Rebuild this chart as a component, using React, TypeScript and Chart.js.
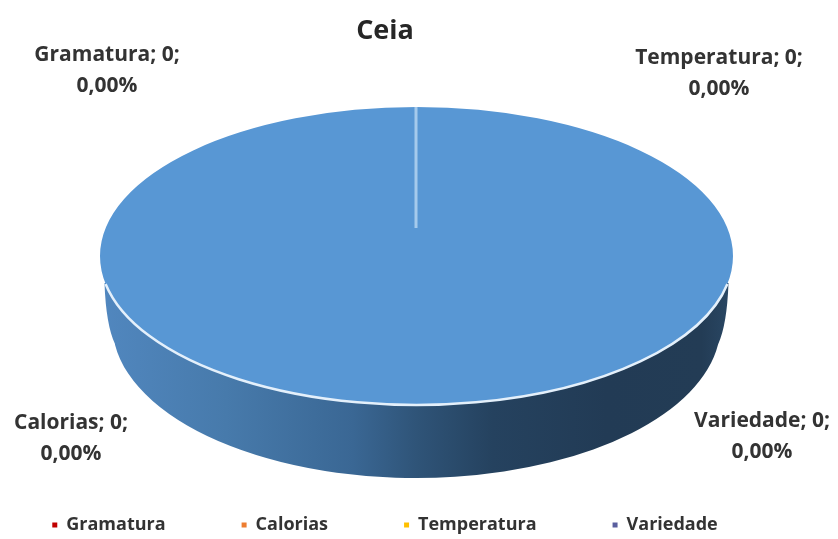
import React, { useEffect, useRef } from "react";
import { Chart, registerables } from "chart.js";

Chart.register(...registerables);

const categories = ["Gramatura", "Calorias", "Temperatura", "Variedade", ""];
const values = [0, 0, 0, 0, 100];
const percentLabels = ["0,00%", "0,00%", "0,00%", "0,00%", ""];
const sliceColors = ["#c00000", "#ed7d31", "#ffc000", "#5a5f9f", "#5897d4"];
const labelAnchors = [
  [107, 55, 86],
  [71, 423, 454],
  [719, 58, 89],
  [762, 421, 452],
];
const FONT = "'Open Sans', Lato, sans-serif";

const pie3d = {
  id: "pie3d",
  beforeDatasetsDraw(chart: any) {
    const ctx = chart.ctx;
    const arc = chart.getDatasetMeta(0).data[4];
    const cx = 416.5, cy = 256, rx = 316.5, ry = 149;
    // side wall
    const g = ctx.createLinearGradient(100, 0, 733, 0);
    g.addColorStop(0, "#5187bf");
    g.addColorStop(0.2, "#477aab");
    g.addColorStop(0.4, "#3a6794");
    g.addColorStop(0.5, "#2f5478");
    g.addColorStop(0.62, "#25425f");
    g.addColorStop(0.8, "#223b55");
    g.addColorStop(0.95, "#233c55");
    g.addColorStop(1, "#2a4865");
    ctx.save();
    ctx.beginPath();
    ctx.moveTo(104.5, 283);
    ctx.quadraticCurveTo(106, 325, 115, 344);
    ctx.ellipse(cx, 325, 304, 153, 0, Math.PI - 0.127, 0.127, true);
    ctx.quadraticCurveTo(727, 325, 728.5, 283);
    ctx.closePath();
    ctx.fillStyle = g;
    ctx.fill();
    ctx.restore();
    // flatten the library's circular arcs into the top ellipse
    ctx.save();
    ctx.translate(cx, cy);
    ctx.scale(rx / arc.outerRadius, ry / arc.outerRadius);
    ctx.translate(-arc.x, -arc.y);
  },
  afterDatasetsDraw(chart: any) {
    const ctx = chart.ctx;
    ctx.restore();
    const cx = 416.5, cy = 256, rx = 316.5, ry = 149;
    // rim
    ctx.save();
    ctx.strokeStyle = "#e4f0fb";
    ctx.lineWidth = 2.5;
    ctx.beginPath();
    ctx.ellipse(cx, cy, rx, ry, 0, Math.PI * 0.94, Math.PI * 0.06, true);
    ctx.stroke();
    // seam where the empty slices sit
    ctx.strokeStyle = "#a5caec";
    ctx.lineWidth = 3;
    ctx.beginPath();
    ctx.moveTo(416, 107);
    ctx.lineTo(416, 228);
    ctx.stroke();
    // data labels
    ctx.fillStyle = "#333333";
    ctx.font = `bold 21px ${FONT}`;
    ctx.textAlign = "center";
    ctx.textBaseline = "middle";
    labelAnchors.forEach((a, i) => {
      ctx.fillText(`${categories[i]}; ${values[i]};`, a[0], a[1]);
      ctx.fillText(percentLabels[i], a[0], a[2]);
    });
    ctx.restore();
  },
};

export default function App() {
  const ref = useRef<HTMLCanvasElement>(null);
  useEffect(() => {
    const chart = new Chart(ref.current as HTMLCanvasElement, {
      type: "pie",
      plugins: [pie3d],
      data: {
        labels: categories,
        datasets: [
          {
            data: values,
            backgroundColor: sliceColors,
            borderWidth: 0,
            clip: false,
          } as any,
        ],
      },
      options: {
        responsive: false,
        animation: false,
        layout: { padding: { left: -40, right: 28, bottom: -5 } },
        plugins: {
          tooltip: { enabled: false },
          title: {
            display: true,
            text: "Ceia",
            color: "#262626",
            font: { family: FONT, size: 27, weight: "bold" },
            padding: { top: 15, bottom: 10 },
          },
          legend: {
            position: "bottom",
            labels: {
              boxWidth: 5,
              boxHeight: 5,
              padding: 76,
              color: "#333333",
              font: { family: FONT, size: 18, weight: "bold" },
              filter: (item: any) => item.text !== "",
            },
          },
        },
      },
    } as any);
    return () => chart.destroy();
  }, []);
  return (
    <div style={{ position: "absolute", left: 0, top: 0, width: 838, height: 539, background: "#fff" }}>
      <canvas ref={ref} width={838} height={539} style={{ display: "block" }} />
    </div>
  );
}
